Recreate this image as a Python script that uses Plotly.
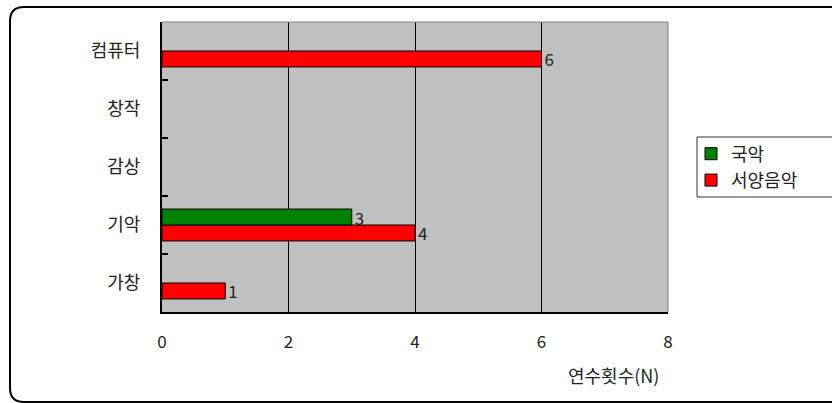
import plotly.graph_objects as go

categories = ["가창", "기악", "감상", "창작", "컴퓨터"]
series_names = ["국악", "서양음악"]
gukak = [None, 3, None, None, None]
western = [1, 4, None, None, 6]
x_ticks = [0, 2, 4, 6, 8]
x_title = "연수횟수(N)"

FONT = "Noto Sans CJK KR, Noto Sans, DejaVu Sans, sans-serif"
W, H = 832, 403
L, R, T, B = 162, 164, 22, 91
PW, PH = W - L - R, H - T - B


def px2paper(px, py):
    return (px - L) / PW, (H - B - py) / PH


def lab(vals):
    return [str(v) if v else "" for v in vals]


fig = go.Figure()
fig.add_trace(go.Bar(
    y=categories, x=western, name=series_names[1], orientation="h",
    marker=dict(color="#FF0000", line=dict(color="#000000", width=1)),
    text=lab(western), textposition="outside", cliponaxis=False, constraintext="none",
    textfont=dict(size=17, color="#222222", family=FONT),
))
fig.add_trace(go.Bar(
    y=categories, x=gukak, name=series_names[0], orientation="h",
    marker=dict(color="#008000", line=dict(color="#000000", width=1)),
    text=lab(gukak), textposition="outside", cliponaxis=False, constraintext="none",
    textfont=dict(size=17, color="#222222", family=FONT),
))

# outer rounded frame: open on the right (runs off the canvas)
x0, y1 = px2paper(10, 7)
xe, y0 = px2paper(840, 402)
rx, ry = 14 / PW, 14 / PH
path = (f"M {xe},{y1} L {x0+rx},{y1} Q {x0},{y1} {x0},{y1-ry} "
        f"L {x0},{y0+ry} Q {x0},{y0} {x0+rx},{y0} L {xe},{y0}")

lx0, ly1 = px2paper(697, 137)
lx1, ly0 = px2paper(840, 197)
legend_path = f"M {lx1},{ly1} L {lx0},{ly1} L {lx0},{ly0} L {lx1},{ly0}"

shapes = [
    dict(type="path", xref="paper", yref="paper", path=path,
         line=dict(color="#000000", width=2), layer="above"),
    dict(type="path", xref="paper", yref="paper", path=legend_path,
         line=dict(color="#333333", width=1)),
    dict(type="line", xref="paper", yref="paper", x0=0, x1=1, y0=1, y1=1,
         line=dict(color="#808080", width=1), layer="above"),
    dict(type="line", xref="paper", yref="paper", x0=1, x1=1, y0=0, y1=1,
         line=dict(color="#808080", width=1), layer="above"),
]

tx, ty = px2paper(613, 375)

fig.update_layout(
    width=W, height=H,
    margin=dict(l=L, r=R, t=T, b=B, pad=0),
    paper_bgcolor="#FFFFFF",
    plot_bgcolor="#C0C0C0",
    barmode="group", bargap=0.45, bargroupgap=0,
    font=dict(family=FONT, size=17, color="#222222"),
    showlegend=True,
    legend=dict(
        x=lx0 - 6 / PW, xanchor="left", y=(ly0 + ly1) / 2, yanchor="middle",
        traceorder="reversed", bgcolor="rgba(0,0,0,0)", borderwidth=0,
        font=dict(size=18, family=FONT, color="#222222"),
        itemwidth=30, tracegroupgap=0,
    ),
    xaxis=dict(
        range=[0, 8], tickvals=x_ticks, ticktext=[str(v) for v in x_ticks],
        showgrid=True, gridcolor="#000000", gridwidth=1,
        zeroline=False, showline=True, linecolor="#000000", linewidth=2,
        ticks="", ticklabelstandoff=14,
        tickfont=dict(size=17, family=FONT, color="#222222"),
    ),
    yaxis=dict(
        categoryorder="array", categoryarray=categories,
        showgrid=False, zeroline=False, showline=True, linecolor="#000000", linewidth=2,
        ticks="inside", tickson="boundaries", ticklen=6, tickcolor="#000000", tickwidth=2,
        ticklabelstandoff=16,
        tickfont=dict(size=18, family=FONT, color="#222222"),
    ),
    shapes=shapes,
    annotations=[dict(text=x_title, xref="paper", yref="paper", x=tx, y=ty,
                      showarrow=False, xanchor="center", yanchor="middle",
                      font=dict(size=18, family=FONT, color="#222222"))],
)

fig.write_html("out.html", config={"displayModeBar": False},
               post_script="document.body.style.margin='0';")
